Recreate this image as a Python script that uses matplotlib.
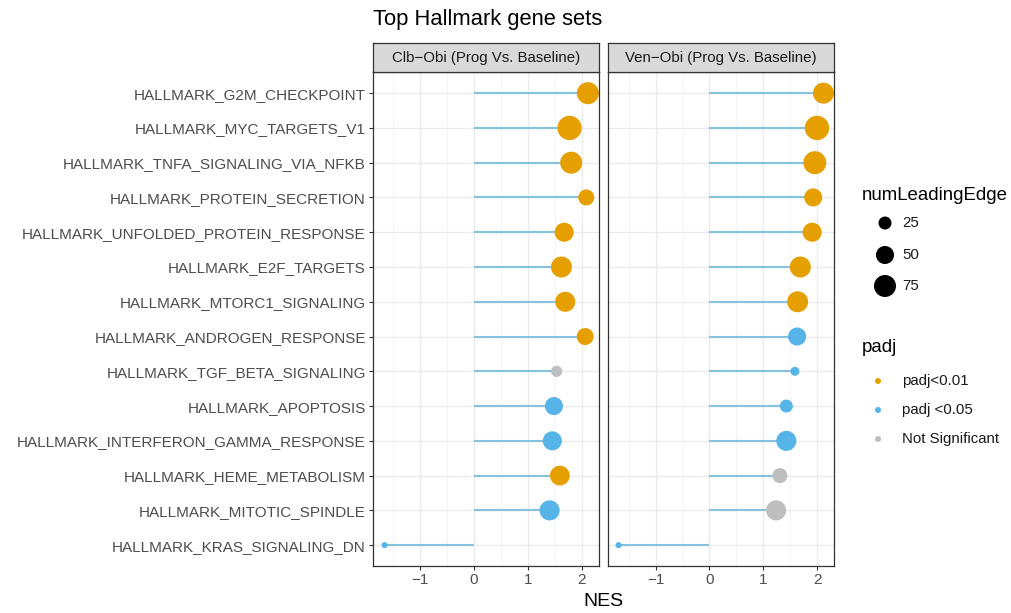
import matplotlib
matplotlib.use("Agg")
import matplotlib.pyplot as plt
import numpy as np

plt.rcParams["font.family"] = ["Liberation Sans", "DejaVu Sans"]

pathways = [
    "HALLMARK_G2M_CHECKPOINT",
    "HALLMARK_MYC_TARGETS_V1",
    "HALLMARK_TNFA_SIGNALING_VIA_NFKB",
    "HALLMARK_PROTEIN_SECRETION",
    "HALLMARK_UNFOLDED_PROTEIN_RESPONSE",
    "HALLMARK_E2F_TARGETS",
    "HALLMARK_MTORC1_SIGNALING",
    "HALLMARK_ANDROGEN_RESPONSE",
    "HALLMARK_TGF_BETA_SIGNALING",
    "HALLMARK_APOPTOSIS",
    "HALLMARK_INTERFERON_GAMMA_RESPONSE",
    "HALLMARK_HEME_METABOLISM",
    "HALLMARK_MITOTIC_SPINDLE",
    "HALLMARK_KRAS_SIGNALING_DN",
]
facets = ["Clb\u2212Obi (Prog Vs. Baseline)", "Ven\u2212Obi (Prog Vs. Baseline)"]

nes_clb = [2.11, 1.77, 1.80, 2.08, 1.67, 1.62, 1.69, 2.06, 1.53, 1.48, 1.45, 1.59, 1.40, -1.66]
nes_ven = [2.12, 2.00, 1.96, 1.93, 1.91, 1.69, 1.64, 1.63, 1.59, 1.43, 1.43, 1.31, 1.24, -1.69]

edge_clb = [75, 92, 75, 39, 56, 68, 62, 44, 18, 50, 56, 60, 62, 4]
edge_ven = [68, 92, 82, 50, 56, 68, 68, 50, 11, 25, 62, 34, 62, 4]

# 0 = padj<0.01, 1 = padj <0.05, 2 = not significant
sig_clb = [0, 0, 0, 0, 0, 0, 0, 0, 2, 1, 1, 0, 1, 1]
sig_ven = [0, 0, 0, 0, 0, 0, 0, 1, 1, 1, 1, 2, 2, 1]

sig_labels = ["padj<0.01", "padj <0.05", "Not Significant"]
sig_colors = ["#E69F00", "#56B4E9", "#BEBEBE"]
size_breaks = [25, 50, 75]

W, H, DPI = 1011, 613, 100
PX = 72.0 / DPI


def marker_area(n):
    # diameter in pixels grows with sqrt of leading edge count
    d = np.sqrt(11.5 + 6.3 * np.asarray(n, dtype=float))
    return (d * PX) ** 2


fig = plt.figure(figsize=(W / DPI, H / DPI), dpi=DPI)
fig.patch.set_facecolor("white")


def px_axes(x0, y0, x1, y1, **kw):
    return fig.add_axes([x0 / W, 1 - y1 / H, (x1 - x0) / W, (y1 - y0) / H], **kw)


all_nes = np.array(nes_clb + nes_ven)
lo, hi = all_nes.min(), all_nes.max()
pad = 0.05 * (hi - lo)
xlim = (lo - pad, hi + pad)
ypos = np.arange(len(pathways))[::-1] + 1

panels = [(372.7, 598.7), (608.3, 833.7)]
series = [(nes_clb, edge_clb, sig_clb), (nes_ven, edge_ven, sig_ven)]
strip_top, strip_bot, panel_bot = 43, 72.3, 566

for i, ((x0, x1), (nes, edge, sig), label) in enumerate(zip(panels, series, facets)):
    ax = px_axes(x0, strip_bot, x1, panel_bot)
    ax.set_xlim(*xlim)
    ax.set_ylim(0.4, len(pathways) + 0.6)
    for v in [-1.5, -0.5, 0.5, 1.5]:
        ax.axvline(v, color="#f2f2f2", lw=0.6, zorder=0)
    for v in [-1, 0, 1, 2]:
        ax.axvline(v, color="#ebebeb", lw=1.0, zorder=0)
    for y in ypos:
        ax.axhline(y, color="#ebebeb", lw=1.0, zorder=0)

    nes = np.array(nes)
    ax.hlines(ypos, 0, nes, color="#86c2dc", lw=1.5, zorder=1)
    ax.scatter(nes, ypos, s=marker_area(edge),
               c=[sig_colors[k] for k in sig], edgecolors="none", zorder=2,
               clip_on=False)

    ax.set_xticks([-1, 0, 1, 2])
    ax.set_xticklabels(["\u22121", "0", "1", "2"])
    ax.tick_params(axis="x", length=3, width=0.8, color="#333333",
                   labelsize=11, labelcolor="#4d4d4d", pad=2)
    if i == 0:
        ax.set_yticks(ypos)
        ax.set_yticklabels(pathways)
        ax.tick_params(axis="y", length=3, width=0.8, color="#333333",
                       labelsize=11, labelcolor="#4d4d4d", pad=2)
    else:
        ax.set_yticks([])
    for sp in ax.spines.values():
        sp.set_color("#333333")
        sp.set_linewidth(0.9)

    strip = px_axes(x0, strip_top, x1, strip_bot)
    strip.set_xticks([])
    strip.set_yticks([])
    strip.set_facecolor("#d9d9d9")
    for sp in strip.spines.values():
        sp.set_color("#333333")
        sp.set_linewidth(0.9)
    strip.text(0.5, 0.5, label, ha="center", va="center", fontsize=10.8,
               color="#1a1a1a", transform=strip.transAxes)

fig.text(373 / W, 1 - 20 / H, "Top Hallmark gene sets", ha="left", va="center",
         fontsize=15.8, color="black")
fig.text(603 / W, 1 - 601 / H, "NES", ha="center", va="center",
         fontsize=14, color="black")

# legends drawn on a pixel-space overlay
leg = px_axes(0, 0, W, H)
leg.set_xlim(0, W)
leg.set_ylim(H, 0)
leg.axis("off")
leg.text(862, 196, "numLeadingEdge", fontsize=13.4, va="center", ha="left")
for yy, b in zip([223, 255, 286], size_breaks):
    leg.scatter([885], [yy], s=marker_area(b), c="black", edgecolors="none")
    leg.text(902, yy, str(b), fontsize=10.8, va="center", ha="left", color="#1a1a1a")
leg.text(862, 348, "padj", fontsize=13.4, va="center", ha="left")
for yy, lab, col in zip([381, 410, 439], sig_labels, sig_colors):
    leg.scatter([878], [yy], s=(6 * PX) ** 2, c=col, edgecolors="none")
    leg.text(902, yy, lab, fontsize=10.8, va="center", ha="left", color="#1a1a1a")

fig.savefig("out.png", dpi=DPI)
